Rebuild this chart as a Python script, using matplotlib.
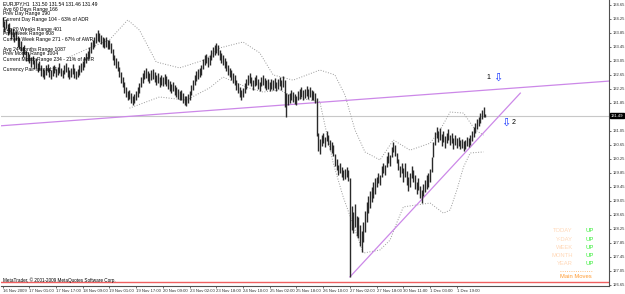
"""
EURJPY H1 chart with trendlines and range info (MetaTrader style)
"""

import matplotlib
matplotlib.use('Agg')
import matplotlib.pyplot as plt

#---------------------------------------------------------------------------------------------------
# Data (prices)
#---------------------------------------------------------------------------------------------------

bar_high = [
    134.30, 134.18, 134.24, 134.10, 134.12, 133.98, 134.00, 133.88, 133.90, 133.76, 133.70, 133.62, 133.46, 133.50, 133.34, 133.30,
    133.26, 133.16, 133.20, 133.08, 133.12, 133.00, 133.04, 132.92, 132.82, 132.80, 132.92, 132.96, 132.86, 132.78, 132.90, 132.94,
    132.82, 132.88, 132.98, 132.86, 132.80, 132.92, 133.00, 132.88, 132.78, 132.84, 132.96, 132.84, 132.76, 132.82, 132.92, 133.00,
    133.04, 133.16, 133.28, 133.34, 133.44, 133.58, 133.64, 133.74, 133.86, 133.94, 133.86, 133.78, 133.72, 133.70, 133.72, 133.66,
    133.64, 133.56, 133.38, 133.22, 133.12, 133.06, 132.88, 132.72, 132.58, 132.44, 132.30, 132.18, 132.22, 132.12, 132.04, 132.10,
    132.20, 132.30, 132.42, 132.60, 132.70, 132.78, 132.84, 132.76, 132.70, 132.80, 132.82, 132.72, 132.64, 132.70, 132.58, 132.64,
    132.58, 132.68, 132.62, 132.52, 132.48, 132.40, 132.46, 132.36, 132.30, 132.24, 132.18, 132.22, 132.12, 132.06, 132.04, 132.10,
    132.18, 132.36, 132.50, 132.64, 132.76, 132.82, 132.86, 132.94, 133.10, 133.22, 133.26, 133.16, 133.22, 133.36, 133.44, 133.50,
    133.56, 133.50, 133.36, 133.28, 133.22, 133.12, 133.04, 132.92, 132.86, 132.80, 132.70, 132.64, 132.50, 132.42, 132.30, 132.22,
    132.28, 132.42, 132.52, 132.64, 132.70, 132.58, 132.50, 132.58, 132.64, 132.52, 132.46, 132.58, 132.64, 132.56, 132.50, 132.52,
    132.46, 132.52, 132.50, 132.56, 132.46, 132.52, 132.58, 132.50, 132.62, 132.50, 132.12, 132.10, 132.14, 132.22, 132.16, 132.10,
    132.06, 132.18, 132.24, 132.30, 132.22, 132.26, 132.32, 132.24, 132.30, 132.22, 132.18, 132.12, 132.00, 130.98, 130.82, 130.94,
    131.00, 130.88, 131.06, 130.94, 130.80, 130.72, 130.66, 130.38, 130.24, 130.08, 130.14, 130.02, 129.94, 129.96, 130.02, 129.92,
    129.70, 128.90, 128.74, 128.96, 128.62, 128.58, 128.36, 128.20, 128.44, 128.76, 129.02, 129.18, 129.34, 129.44, 129.60, 129.70,
    129.74, 129.86, 129.80, 130.04, 130.14, 130.08, 130.32, 130.44, 130.36, 130.60, 130.74, 130.64, 130.42, 130.24, 130.04, 130.14,
    129.98, 130.12, 129.90, 129.72, 129.84, 130.06, 129.94, 129.78, 129.60, 129.70, 129.48, 129.36, 129.54, 129.66, 129.78, 129.84,
    129.96, 130.30, 130.72, 131.02, 131.16, 131.06, 131.12, 130.96, 131.04, 130.90, 131.00, 131.10, 130.94, 131.00, 130.86, 130.94,
    130.84, 130.88, 130.78, 130.82, 130.76, 130.80, 130.88, 130.86, 130.94, 131.06, 131.16, 131.28, 131.40, 131.46, 131.56, 131.66, 131.72, 131.54]

bar_low = [
    134.02, 133.88, 133.98, 133.80, 133.84, 133.68, 133.74, 133.58, 133.64, 133.46, 133.40, 133.32, 133.16, 133.24, 133.06, 133.04,
    133.00, 132.88, 132.96, 132.82, 132.84, 132.72, 132.80, 132.62, 132.58, 132.52, 132.64, 132.72, 132.58, 132.54, 132.62, 132.70,
    132.58, 132.64, 132.70, 132.62, 132.56, 132.68, 132.72, 132.60, 132.54, 132.60, 132.68, 132.56, 132.52, 132.58, 132.64, 132.72,
    132.78, 132.88, 133.00, 133.10, 133.16, 133.28, 133.38, 133.46, 133.56, 133.62, 133.58, 133.52, 133.46, 133.42, 133.46, 133.40,
    133.38, 133.28, 133.08, 132.94, 132.86, 132.76, 132.58, 132.42, 132.30, 132.14, 132.02, 131.92, 131.96, 131.86, 131.78, 131.84,
    131.94, 132.02, 132.14, 132.30, 132.42, 132.52, 132.56, 132.48, 132.42, 132.50, 132.54, 132.46, 132.36, 132.42, 132.30, 132.36,
    132.32, 132.40, 132.34, 132.26, 132.20, 132.14, 132.20, 132.08, 132.02, 131.96, 131.92, 131.94, 131.86, 131.80, 131.76, 131.84,
    131.92, 132.08, 132.22, 132.36, 132.48, 132.54, 132.60, 132.64, 132.82, 132.94, 133.00, 132.88, 132.94, 133.08, 133.16, 133.22,
    133.28, 133.22, 133.08, 133.00, 132.94, 132.86, 132.76, 132.66, 132.60, 132.50, 132.42, 132.36, 132.22, 132.14, 132.02, 131.94,
    132.02, 132.14, 132.26, 132.36, 132.42, 132.32, 132.22, 132.32, 132.36, 132.26, 132.20, 132.32, 132.36, 132.28, 132.22, 132.26,
    132.20, 132.26, 132.22, 132.28, 132.20, 132.26, 132.32, 132.22, 132.30, 131.72, 131.46, 131.80, 131.86, 131.94, 131.88, 131.82,
    131.80, 131.92, 131.96, 132.02, 131.94, 132.00, 132.06, 131.96, 132.02, 131.94, 131.92, 131.86, 130.90, 130.48, 130.40, 130.62,
    130.70, 130.58, 130.76, 130.64, 130.50, 130.42, 130.34, 130.06, 129.94, 129.78, 129.84, 129.74, 129.64, 129.68, 129.74, 129.62,
    126.88, 128.22, 128.14, 128.30, 128.06, 127.98, 127.76, 127.60, 127.88, 128.16, 128.46, 128.70, 128.84, 129.02, 129.12, 129.26,
    129.44, 129.56, 129.50, 129.74, 129.84, 129.78, 130.02, 130.14, 130.06, 130.30, 130.44, 130.34, 130.12, 129.92, 129.72, 129.84,
    129.60, 129.74, 129.50, 129.34, 129.46, 129.70, 129.58, 129.40, 129.24, 129.36, 129.12, 129.00, 129.18, 129.30, 129.40, 129.46,
    129.58, 129.88, 130.30, 130.66, 130.86, 130.74, 130.80, 130.62, 130.72, 130.56, 130.70, 130.80, 130.64, 130.70, 130.54, 130.64,
    130.56, 130.62, 130.52, 130.56, 130.48, 130.54, 130.62, 130.60, 130.66, 130.76, 130.88, 130.98, 131.10, 131.18, 131.28, 131.40, 131.46, 131.46]

# Dotted envelope lines (bar index, price)
upper_x = [40, 52, 64, 75, 82, 92, 106, 121, 130, 144, 154, 162, 174, 190, 199, 205, 211, 217, 226, 234, 244, 256, 262, 268, 276, 283, 288]
upper_y = [133.16, 133.42, 133.65, 134.22, 133.93, 133.02, 132.85, 133.08, 133.42, 133.59, 133.28, 132.65, 132.50, 132.79, 132.65,
           132.08, 131.08, 130.45, 130.22, 130.79, 130.50, 130.70, 131.08, 131.59, 131.56, 131.08, 130.93]
lower_x = [76, 94, 110, 124, 132, 146, 156, 166, 174, 190, 198, 204, 216, 226, 232, 236, 240, 256, 264, 268, 272, 276, 280, 288]
lower_y = [131.70, 132.02, 131.93, 132.28, 132.59, 132.30, 132.16, 132.22, 132.02, 131.88, 130.13, 129.16, 127.56, 127.65, 127.93,
           128.42, 128.88, 128.99, 128.70, 128.79, 129.36, 130.02, 130.42, 130.45]

# Trendlines (bar index, price)
tl1_pts = [(0, 131.20), (362, 132.47)]
tl2_pts = [(208, 126.88), (310, 132.13)]

last_price = 131.49

# Axis labels
ytick_vals = [126.65, 127.05, 127.45, 127.85, 128.25, 128.65, 129.05, 129.45, 129.85, 130.25, 130.65,
              131.05, 131.85, 132.25, 132.65, 133.05, 133.45, 133.85, 134.25, 134.65]
xtick_idx = [0, 16, 32, 48, 64, 80, 96, 112, 128, 144, 160, 176, 192, 208, 224, 240, 256, 272]
xtick_lbl = ['16 Nov 2009', '17 Nov 01:00', '17 Nov 17:00', '18 Nov 09:00', '19 Nov 01:00', '19 Nov 17:00',
             '20 Nov 09:00', '23 Nov 02:00', '23 Nov 18:00', '24 Nov 10:00', '25 Nov 02:00', '25 Nov 18:00',
             '26 Nov 10:00', '27 Nov 02:00', '27 Nov 18:00', '30 Nov 11:00', '1 Dec 03:00', '1 Dec 19:00']

info_lines = ['EURJPY,H1  131.50 131.54 131.46 131.49',
              'Avg 60 Days Range 166',
              'Prev Day Range 190',
              'Current Day Range 104 - 63% of ADR',
              '',
              'Avg 20 Weeks Range 401',
              'Prev Week Range 608',
              'Current Week Range 271 - 67% of AWR',
              '',
              'Avg 24 Months Range 1087',
              'Prev Month Range 1004',
              'Current Month Range 234 - 21% of AMR',
              '',
              'Currency Pair spread: 4']

moves_lbl = ['TODAY', 'Y-DAY', 'WEEK', 'MONTH', 'YEAR']
moves_val = ['UP', 'UP', 'UP', 'UP', 'UP']

#---------------------------------------------------------------------------------------------------
# Main Program
#---------------------------------------------------------------------------------------------------

W, H = 625, 294
plt.rcParams['font.family'] = ['Liberation Sans', 'DejaVu Sans']

fig = plt.figure(figsize=(W / 100, H / 100), dpi=100)
ax = fig.add_axes([1 / W, 8 / H, 608 / W, 286 / H])
ax.set_xlim(-0.9, 363.1)
ax.set_ylim(126.62, 134.79)

# Bars
idx = list(range(len(bar_high)))
ax.vlines(idx, bar_low, bar_high, color='#2a2a2a', lw=1.0, zorder=3)

# Envelopes
ax.plot(upper_x, upper_y, ls=':', color='#9a9a9a', lw=0.7, zorder=2)
ax.plot(lower_x, lower_y, ls=':', color='#9a9a9a', lw=0.7, zorder=2)

# Current price line
ax.axhline(last_price, color='#c8c8c8', lw=0.8, zorder=1)

# Trendlines
ax.axline(tl1_pts[0], tl1_pts[1], color='#cc88e8', lw=0.9, zorder=2)
ax.plot([p[0] for p in tl2_pts], [p[1] for p in tl2_pts], color='#cc88e8', lw=0.9, zorder=2)

# Arrows with labels
ax.text(291, 132.59, '1', fontsize=5, ha='center', va='center', color='black')
ax.text(296.5, 132.57, '\u21e9', fontsize=8, ha='center', va='center', color='#1030ff', family='DejaVu Sans')
ax.text(306, 131.30, '2', fontsize=5, ha='center', va='center', color='black')
ax.text(301.5, 131.27, '\u21e9', fontsize=8, ha='center', va='center', color='#1030ff', family='DejaVu Sans')

# Axes style
for s in ['left', 'top']:
    ax.spines[s].set_visible(False)
ax.spines['right'].set_color('#505050')
ax.spines['bottom'].set_color('#505050')
ax.spines['right'].set_linewidth(0.8)
ax.spines['bottom'].set_linewidth(0.8)

ax.yaxis.tick_right()
ax.set_yticks(ytick_vals)
ax.set_yticklabels([f'{v:.2f}' for v in ytick_vals])
ax.tick_params(axis='y', labelsize=3.0, length=1.5, width=0.5, pad=1.0, colors='#303030')
ax.set_xticks(xtick_idx)
ax.set_xticklabels(xtick_lbl, ha='left')
ax.tick_params(axis='x', labelsize=3.1, length=1.5, width=0.5, pad=0.3, colors='#303030')

# Current price box
ax.text(1.0035, (last_price - 126.62) / (134.79 - 126.62), f'{last_price:.2f}', transform=ax.transAxes,
        fontsize=3.0, color='white', ha='left', va='center',
        bbox=dict(boxstyle='square,pad=0.2', fc='black', ec='black'))

# Info text top-left
for k, line in enumerate(info_lines):
    fig.text(3 / W, 1 - (4 + 5 * k) / H, line, fontsize=3.6, ha='left', va='center', color='black')

# Copyright line and red bottom line
ax.axhline(126.73, color='#f06060', lw=1.0, zorder=1)
fig.text(3 / W, 1 - 280 / H, 'MetaTrader, \u00a9 2001-2009 MetaQuotes Software Corp.', fontsize=3.3,
         ha='left', va='center', color='black')

# Main Moves panel
for k, (lbl, val) in enumerate(zip(moves_lbl, moves_val)):
    y = 1 - (231 + 8.2 * k) / H
    fig.text(573 / W, y, lbl, fontsize=4.2, ha='right', va='center', color='#ffd8b8')
    fig.text(586 / W, y, val, fontsize=4.2, ha='left', va='center', color='#33ee33')
fig.lines.append(plt.Line2D([560 / W, 593 / W], [1 - 271 / H, 1 - 271 / H], transform=fig.transFigure,
                            color='#ffb060', lw=0.6, ls=':'))
fig.text(576 / W, 1 - 276 / H, 'Main Moves', fontsize=4.2, ha='center', va='center', color='#ff9a30')

plt.savefig('out.png', dpi=100)
